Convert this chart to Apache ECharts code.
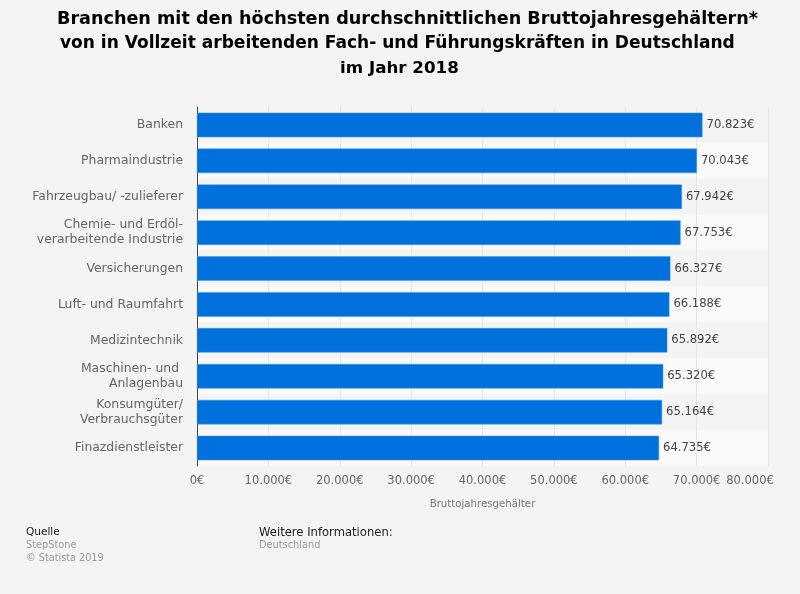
<!DOCTYPE html>
<html>
<head>
<meta charset="utf-8">
<style>
  html, body { margin: 0; padding: 0; background: #f4f4f4; }
  #chart { width: 800px; height: 594px; }
</style>
<script src="https://cdn.jsdelivr.net/npm/echarts@6/dist/echarts.min.js"></script>
</head>
<body>
<div id="chart"></div>
<script>
const categories = ['Banken', 'Pharmaindustrie', 'Fahrzeugbau/ -zulieferer', 'Chemie- und Erdöl-\nverarbeitende Industrie', 'Versicherungen', 'Luft- und Raumfahrt', 'Medizintechnik', 'Maschinen- und \nAnlagenbau', 'Konsumgüter/\nVerbrauchsgüter', 'Finazdienstleister']
const gehalt = [70823, 70043, 67942, 67753, 66327, 66188, 65892, 65320, 65164, 64735]
const titleLines = ['Branchen mit den höchsten durchschnittlichen Bruttojahresgehältern*', 'von in Vollzeit arbeitenden Fach- und Führungskräften in Deutschland', 'im Jahr 2018']

const font = 'DejaVu Sans'
const euro = v => String(v).replace(/\B(?=(\d{3})+$)/g, '.') + '€'

// one title per line, the lines of the original are not evenly spaced or centred
const titleLeft = [57, 60, 340]
const titleSize = [17.6, 17.05, 16.7]
const titles = titleLines.map((text, i) => ({
  text,
  left: titleLeft[i],
  top: 10 + i * 25.3,
  padding: 0,
  textStyle: { fontFamily: font, fontSize: titleSize[i], fontWeight: 'bold', color: '#000' }
}))

const myChart = echarts.init(document.getElementById('chart'))
myChart.setOption({
  backgroundColor: '#f4f4f4',
  animation: false,
  textStyle: { fontFamily: font },
  title: titles,
  grid: { left: 197, right: 32, top: 107, height: 359 },
  xAxis: {
    type: 'value',
    name: 'Bruttojahresgehälter',
    nameLocation: 'middle',
    nameGap: 33,
    nameTextStyle: { fontSize: 10.2, color: '#777' },
    min: 0,
    max: 80000,
    interval: 10000,
    axisLine: { show: false },
    axisTick: { show: false },
    axisLabel: {
      fontSize: 11.5,
      color: '#666',
      margin: 9,
      hideOverlap: false,
      // the last label sits left of its gridline in the original
      formatter: v => v === 80000 ? '{last|' + euro(v) + '}' : euro(v),
      rich: { last: { fontSize: 11.5, color: '#666', padding: [0, 36, 0, 0] } }
    },
    splitLine: { show: true, lineStyle: { color: '#e6e6e6', width: 1 } }
  },
  yAxis: {
    type: 'category',
    data: categories,
    inverse: true,
    axisLine: { show: true, lineStyle: { color: '#444', width: 1 } },
    axisTick: { show: false },
    axisLabel: { fontSize: 12.4, color: '#666', margin: 14, lineHeight: 15, align: 'right', interval: 0 },
    splitArea: { show: true, areaStyle: { color: ['#f4f4f4', '#fafafa'] } }
  },
  series: [{
    type: 'bar',
    data: gehalt,
    barWidth: 24.5,
    itemStyle: { color: '#0071dc', borderColor: '#3a97e6', borderWidth: 0.5 },
    label: { show: true, position: 'right', distance: 4, fontSize: 11.6, color: '#444', formatter: p => euro(p.value) }
  }],
  graphic: [
    { type: 'text', left: 26, top: 527, style: { text: 'Quelle', font: '10.5px "DejaVu Sans"', fill: '#222' } },
    { type: 'text', left: 26, top: 540, style: { text: 'StepStone', font: '9.8px "DejaVu Sans"', fill: '#999' } },
    { type: 'text', left: 26, top: 553, style: { text: '© Statista 2019', font: '9.7px "DejaVu Sans"', fill: '#999' } },
    { type: 'text', left: 259, top: 527, style: { text: 'Weitere Informationen:', font: '11.6px "DejaVu Sans"', fill: '#222' } },
    { type: 'text', left: 259, top: 540, style: { text: 'Deutschland', font: '9.8px "DejaVu Sans"', fill: '#999' } }
  ]
})
</script>
</body>
</html>
